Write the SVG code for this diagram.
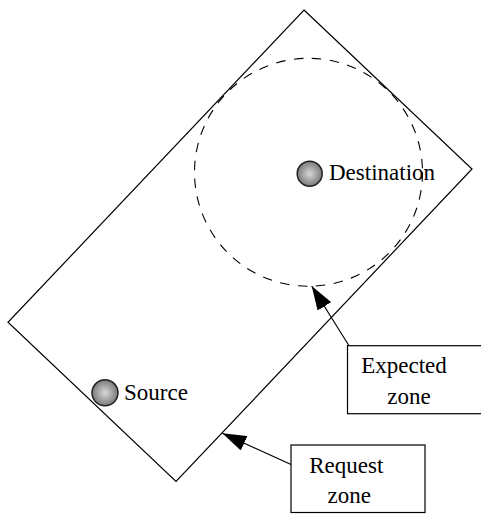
<svg xmlns="http://www.w3.org/2000/svg" width="481" height="514" viewBox="0 0 481 514">
<style>
.ln{fill:none;stroke:#000;stroke-width:1.2}
.box{fill:#fff;stroke:#000;stroke-width:1.2}
.t{font-family:"Liberation Serif","Times New Roman",serif;font-size:23px;fill:#000}
.ball{fill:url(#g);stroke:#222;stroke-width:1.5}
</style>
<defs>
<radialGradient id="g" cx="0.5" cy="0.5" r="0.5">
<stop offset="0" stop-color="#d8d8d8"/>
<stop offset="1" stop-color="#7a7a7a"/>
</radialGradient>
<marker id="ah" viewBox="0 0 24 16" refX="24" refY="8" markerWidth="24" markerHeight="16" markerUnits="userSpaceOnUse" orient="auto">
<path d="M0,0 L24,8 L0,16 Z" fill="#000"/>
</marker>
</defs>
<g id="request-zone-shape">
<polygon class="ln" points="304,10 472,169 176,481.5 8,322.3"/>
</g>
<g id="expected-zone-shape">
<circle cx="308.5" cy="172.3" r="114" fill="none" stroke="#000" stroke-width="1.1" stroke-dasharray="9.5,8.5"/>
</g>
<g id="destination">
<circle class="ball" cx="309.7" cy="173.7" r="12.5"/>
<text class="t" x="329" y="180">Destination</text>
</g>
<g id="source">
<circle class="ball" cx="105" cy="392.8" r="13"/>
<text class="t" x="124" y="399.7">Source</text>
</g>
<g id="connectors">
<line class="ln" x1="349" y1="345.7" x2="311.7" y2="286" marker-end="url(#ah)"/>
<line class="ln" x1="291" y1="464.5" x2="222.3" y2="433.3" marker-end="url(#ah)"/>
</g>
<g id="expected-zone-label">
<rect class="box" x="347.5" y="345.7" width="145" height="68"/>
<text class="t" x="404" y="373.3" text-anchor="middle">Expected</text>
<text class="t" x="409" y="404" text-anchor="middle">zone</text>
</g>
<g id="request-zone-label">
<rect class="box" x="291" y="445" width="134" height="67.5"/>
<text class="t" x="346.3" y="473.3" text-anchor="middle">Request</text>
<text class="t" x="349.3" y="503.3" text-anchor="middle">zone</text>
</g>
</svg>
